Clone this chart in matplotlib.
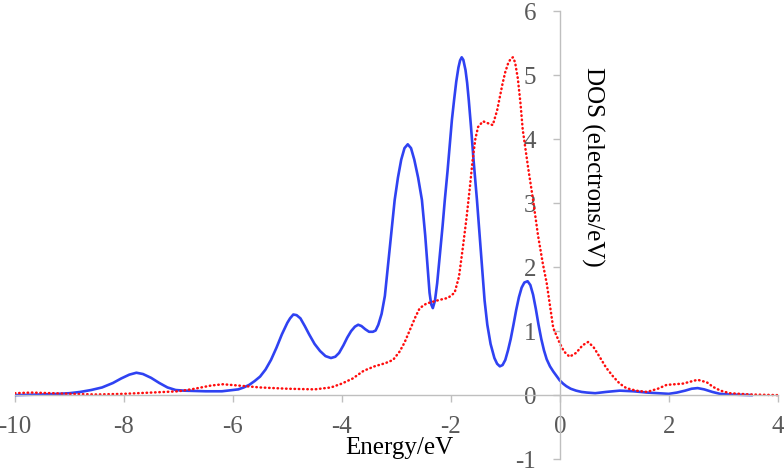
import matplotlib.pyplot as plt
import numpy as np

# total DOS (blue, solid)
e_blue = [-10, -9.5, -9.2, -9.0, -8.8, -8.6, -8.4, -8.2, -8.05, -7.9, -7.77, -7.65,
          -7.5, -7.35, -7.2, -7.05, -6.9, -6.5, -6.2, -6.0, -5.9, -5.8, -5.7, -5.6,
          -5.5, -5.4, -5.3, -5.2, -5.1, -5.0, -4.95, -4.89, -4.83, -4.76, -4.68, -4.6,
          -4.5, -4.4, -4.3, -4.2, -4.12, -4.05, -3.97, -3.9, -3.83, -3.76, -3.7, -3.64,
          -3.57, -3.5, -3.43, -3.38, -3.33, -3.27, -3.21, -3.15, -3.09, -3.03, -2.97,
          -2.91, -2.85, -2.79, -2.73, -2.67, -2.6, -2.53, -2.47, -2.43, -2.39, -2.36,
          -2.33, -2.29, -2.25, -2.2, -2.15, -2.11, -2.06, -2.02, -1.98, -1.94, -1.9,
          -1.86, -1.83, -1.8, -1.77, -1.73, -1.7, -1.67, -1.63, -1.58, -1.52, -1.48,
          -1.43, -1.38, -1.33, -1.27, -1.2, -1.15, -1.1, -1.05, -1.0, -0.95, -0.9,
          -0.85, -0.8, -0.75, -0.7, -0.65, -0.59, -0.54, -0.49, -0.44, -0.39, -0.34,
          -0.29, -0.24, -0.18, -0.12, -0.06, 0.0, 0.06, 0.12, 0.2, 0.3, 0.4, 0.5, 0.65,
          0.85, 1.1, 1.35, 1.6, 1.8, 2.0, 2.15, 2.3, 2.42, 2.53, 2.65, 2.8, 2.94, 3.1,
          3.3, 3.52]
dos_blue = [0.0, 0.01, 0.02, 0.03, 0.05, 0.08, 0.12, 0.19, 0.26, 0.32, 0.35, 0.33,
            0.27, 0.19, 0.12, 0.08, 0.07, 0.06, 0.06, 0.08, 0.09, 0.12, 0.16, 0.22,
            0.29, 0.4, 0.55, 0.74, 0.95, 1.13, 1.2, 1.26, 1.25, 1.2, 1.08, 0.95,
            0.8, 0.69, 0.61, 0.58, 0.6, 0.66, 0.78, 0.9, 1.0, 1.07, 1.1, 1.08,
            1.03, 0.99, 0.99, 1.01, 1.1, 1.27, 1.55, 2.05, 2.55, 3.05, 3.4,
            3.68, 3.86, 3.92, 3.86, 3.68, 3.4, 3.05, 2.5, 2.05, 1.6, 1.42,
            1.36, 1.48, 1.75, 2.2, 2.65, 3.05, 3.5, 3.9, 4.3, 4.61, 4.9,
            5.12, 5.23, 5.28, 5.24, 5.08, 4.88, 4.61, 4.2, 3.65, 3.05, 2.6,
            2.05, 1.48, 1.1, 0.8, 0.58, 0.49, 0.45, 0.47, 0.55, 0.7, 0.88,
            1.1, 1.33, 1.53, 1.68, 1.76, 1.78, 1.72, 1.57, 1.35, 1.1, 0.88,
            0.7, 0.56, 0.45, 0.37, 0.3, 0.23, 0.18, 0.14, 0.1, 0.07, 0.05, 0.04, 0.03,
            0.05, 0.07, 0.06, 0.04, 0.03, 0.02, 0.04, 0.07, 0.1, 0.11, 0.09, 0.05, 0.02, 0.01,
            0.005, 0.0]

# second DOS (red, dotted)
e_red = [-10, -9.7, -9.3, -9.0, -8.5, -8.0, -7.5, -7.0, -6.7, -6.4, -6.18, -5.9,
         -5.5, -5.0, -4.5, -4.2, -4.0, -3.8, -3.6, -3.4, -3.2, -3.06, -2.94, -2.85,
         -2.75, -2.65, -2.57, -2.45, -2.33, -2.2, -2.05, -1.93, -1.85, -1.78, -1.71,
         -1.65, -1.6, -1.55, -1.5, -1.41, -1.32, -1.23, -1.15, -1.05, -1.0, -0.95,
         -0.9, -0.86, -0.82, -0.77, -0.72, -0.68, -0.58, -0.49, -0.4, -0.31, -0.24,
         -0.12, 0.0, 0.08, 0.18, 0.3, 0.42, 0.52, 0.62, 0.73, 0.85, 0.98, 1.1, 1.22,
         1.4, 1.6, 1.8, 1.96, 2.26, 2.53, 2.7, 2.81, 2.95, 3.12, 3.5, 4.0]
dos_red = [0.03, 0.04, 0.03, 0.02, 0.01, 0.02, 0.04, 0.06, 0.1, 0.15, 0.17, 0.15,
           0.12, 0.1, 0.09, 0.12, 0.18, 0.26, 0.38, 0.45, 0.5, 0.55, 0.68, 0.82,
           1.02, 1.22, 1.36, 1.43, 1.46, 1.49, 1.52, 1.6, 1.85, 2.3, 2.78,
           3.25, 3.67, 4.0, 4.19, 4.28, 4.25, 4.22, 4.45, 4.87, 5.05, 5.18,
           5.26, 5.28, 5.2, 4.95, 4.55, 4.15, 3.55, 3.05, 2.5, 2.05, 1.75,
           1.05, 0.81, 0.68, 0.6, 0.66, 0.78, 0.83, 0.75, 0.6, 0.43, 0.29, 0.18, 0.11,
           0.07, 0.05, 0.1, 0.16, 0.18, 0.24, 0.2, 0.13, 0.07, 0.03, 0.01, 0.0]

x_ticks = np.arange(-10, 5, 2)
y_ticks = np.arange(-1, 7, 1)

plt.rcParams['font.family'] = 'Liberation Serif'
plt.rcParams['axes.unicode_minus'] = False
fig = plt.figure(figsize=(7.84, 4.68), dpi=100)
ax = fig.add_axes([0.019, 0.019, 0.973, 0.957])

ax.plot(e_blue, dos_blue, color='#2F42F2', lw=1.9, solid_joinstyle='round')
ax.plot(e_red, dos_red, color='#FF0D0D', lw=1.8, linestyle=(0, (0.2, 1.5)),
        dash_capstyle='round')

ax.set_xlim(-10, 4)
ax.set_ylim(-1, 6)
ax.spines['left'].set_position(('data', 0))
ax.spines['bottom'].set_position(('data', 0))
ax.spines['top'].set_visible(False)
ax.spines['right'].set_visible(False)
for s in ('left', 'bottom'):
    ax.spines[s].set_color('#BFBFBF')
    ax.spines[s].set_linewidth(1.0)

ax.set_xticks(x_ticks)
ax.set_yticks(y_ticks)
ax.tick_params(axis='both', direction='out', length=5, width=1.0, color='#BFBFBF',
               labelcolor='#595959', labelsize=18)
ax.tick_params(axis='x', pad=10)
ax.tick_params(axis='y', pad=12)

ax.text(-2.94, -0.83, 'Energy/eV', fontsize=18, ha='center', va='center')
ax.text(0.6, 3.56, 'DOS (electrons/eV)', fontsize=18, rotation=270,
        ha='center', va='center')

fig.savefig('out.png', dpi=100)
